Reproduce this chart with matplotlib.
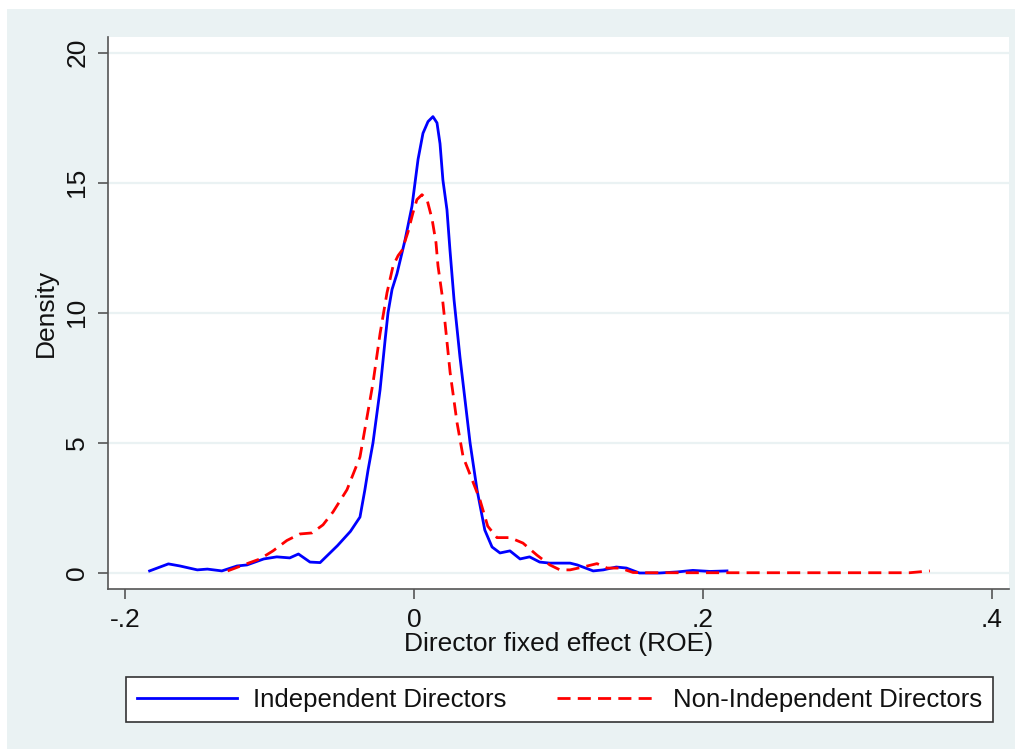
import matplotlib
matplotlib.use("Agg")
import matplotlib.pyplot as plt
from matplotlib.patches import Rectangle

# ---- data ----
indep_x = [-0.183, -0.170, -0.162, -0.150, -0.143, -0.133, -0.1225, -0.1156, -0.104, -0.095,
           -0.086, -0.080, -0.072, -0.065, -0.053, -0.044, -0.0374, -0.034, -0.0318, -0.0284,
           -0.0235, -0.020, -0.018, -0.0152, -0.0118, -0.0062, -0.0014, 0.0007, 0.0028, 0.0062,
           0.0097, 0.0131, 0.0159, 0.018, 0.020, 0.0228, 0.0249, 0.0277, 0.0318, 0.0353,
           0.0388, 0.0436, 0.049, 0.054, 0.0595, 0.0664, 0.0734, 0.080, 0.087, 0.094,
           0.108, 0.113, 0.124, 0.131, 0.140, 0.147, 0.156, 0.170, 0.182, 0.193, 0.205, 0.2166]
indep_y = [0.08, 0.35, 0.27, 0.12, 0.15, 0.08, 0.27, 0.31, 0.54, 0.62,
           0.58, 0.73, 0.42, 0.40, 1.05, 1.6, 2.15, 3.2, 3.96, 5.0,
           7.04, 8.96, 10.0, 10.9, 11.5, 12.8, 14.1, 15.0, 15.9, 16.9,
           17.35, 17.54, 17.3, 16.5, 15.1, 13.96, 12.4, 10.5, 8.3, 6.65,
           5.0, 3.2, 1.65, 1.0, 0.77, 0.85, 0.54, 0.62, 0.42, 0.38,
           0.38, 0.31, 0.08, 0.12, 0.23, 0.19, 0.0, 0.0, 0.04, 0.10, 0.06, 0.08]

nonindep_x = [-0.129, -0.118, -0.1066, -0.0976, -0.088, -0.079, -0.0706, -0.063, -0.056, -0.0464,
              -0.0374, -0.0325, -0.0284, -0.0235, -0.0187, -0.0145, -0.011, -0.0083, -0.0042, -0.0007,
              0.002, 0.0055, 0.009, 0.0125, 0.0152, 0.0166, 0.0194, 0.0215, 0.025, 0.0298,
              0.034, 0.0408, 0.0457, 0.051, 0.0574, 0.0664, 0.0754, 0.085, 0.094, 0.101,
              0.108, 0.117, 0.1266, 0.1336, 0.1426, 0.1516, 0.16, 0.20, 0.25, 0.30, 0.343, 0.357]
nonindep_y = [0.08, 0.31, 0.54, 0.85, 1.25, 1.5, 1.54, 1.85, 2.35, 3.2,
              4.46, 6.0, 7.3, 9.2, 10.77, 11.8, 12.2, 12.4, 13.1, 13.85,
              14.35, 14.54, 14.35, 13.6, 12.7, 11.8, 10.7, 9.6, 7.7, 5.77,
              4.46, 3.5, 2.8, 1.8, 1.36, 1.36, 1.15, 0.69, 0.31, 0.12,
              0.12, 0.23, 0.36, 0.19, 0.19, 0.02, 0.01, 0.01, 0.01, 0.01, 0.01, 0.08]

xticks = [-0.2, 0.0, 0.2, 0.4]
xtick_labels = ["-.2", "0", ".2", ".4"]
yticks = [0, 5, 10, 15, 20]
ytick_labels = ["0", "5", "10", "15", "20"]
series_labels = ["Independent Directors", "Non-Independent Directors"]

# ---- style ----
plt.rcParams['font.family'] = ['Liberation Sans', 'DejaVu Sans']
BG = "#EAF2F3"
TXT = "#111111"
AX = "#555555"
W, H = 1022, 749
FS = 19
FS_LEG = 18.5

fig = plt.figure(figsize=(W / 100, H / 100), dpi=100, facecolor="white")
fig.patches.append(Rectangle((7 / W, 0), (1015 - 7) / W, (H - 9) / H,
                             transform=fig.transFigure, facecolor=BG, edgecolor="none", zorder=-10))

ax = fig.add_axes([108 / W, 1 - 589 / H, (1009 - 108) / W, (589 - 37) / H])
ax.set_zorder(1)
ax.set_facecolor("white")
ax.set_xlim(-0.2118, 0.4118)
ax.set_ylim(-0.615, 20.6)

for y in yticks:
    ax.axhline(y, color=BG, lw=1.6, zorder=1)

ax.plot(indep_x, indep_y, color="#0000FF", lw=2.0, zorder=3, label=series_labels[0])
ax.plot(nonindep_x, nonindep_y, color="#FF0000", lw=2.0, zorder=3,
        linestyle=(0, (4.7, 2.6)), label=series_labels[1])

for s in ["top", "right"]:
    ax.spines[s].set_visible(False)
for s in ["left", "bottom"]:
    ax.spines[s].set_color(AX)
    ax.spines[s].set_linewidth(1.2)

ax.set_xticks(xticks)
ax.set_xticklabels(xtick_labels)
ax.set_yticks(yticks)
ax.set_yticklabels(ytick_labels, rotation=90, va="center")
ax.tick_params(axis="both", colors=AX, labelcolor=TXT, length=7.5, width=1.2,
               labelsize=FS)
ax.tick_params(axis="x", pad=6)
ax.tick_params(axis="y", pad=6)

ax.set_xlabel("Director fixed effect (ROE)", fontsize=FS, color=TXT, labelpad=0)
ax.set_ylabel("Density", fontsize=FS, color=TXT, labelpad=5)

leg = fig.legend(loc="center", bbox_to_anchor=(559.5 / W, 1 - 699.5 / H), ncol=2,
                 fontsize=FS_LEG, frameon=True, fancybox=False, handlelength=3.9,
                 handletextpad=0.6, columnspacing=2.0, borderpad=0.42,
                 framealpha=1, facecolor="white")
leg.get_frame().set_edgecolor("#333333")
leg.get_frame().set_linewidth(1.2)
for t in leg.get_texts():
    t.set_color(TXT)

fig.savefig("out.png", dpi=100, facecolor="white")
